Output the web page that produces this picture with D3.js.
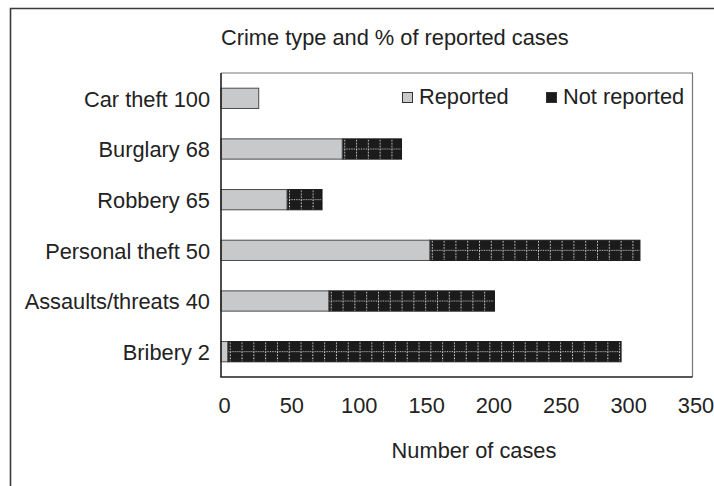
<!DOCTYPE html>
<html>
<head>
<meta charset="utf-8">
<script src="https://cdn.jsdelivr.net/npm/d3@7"></script>
<style>
  html, body { margin: 0; padding: 0; background: #fff; }
  svg { display: block; font-family: "Liberation Sans", Arial, sans-serif; }
</style>
</head>
<body>
<svg id="chart" width="714" height="486"></svg>
<script>
// data
const categories = ["Car theft 100", "Burglary 68", "Robbery 65", "Personal theft 50", "Assaults/threats 40", "Bribery 2"];
const reported = [28, 90, 49, 155, 80, 5];
const notReported = [0, 44, 26, 156, 123, 292];
const xTicks = [0, 50, 100, 150, 200, 250, 300, 350];
const seriesNames = ["Reported", "Not reported"];

const svg = d3.select("#chart");
const plotL = 221, plotR = 692.5, plotT = 73, plotB = 377;
const fs = 21.8;

const x = d3.scaleLinear().domain([0, 350]).range([plotL, plotR]);
const y = d3.scaleBand().domain(categories).range([plotT, plotB]).paddingInner(0.6).paddingOuter(0.3);

// outer frame (cropped: only top and left)
svg.append("path")
  .attr("d", "M10.5,486 V8.5 H714")
  .attr("fill", "none").attr("stroke", "#3a3a3a").attr("stroke-width", 1.6);

// title
svg.append("text")
  .attr("x", plotL).attr("y", 45)
  .attr("font-size", fs).attr("fill", "#222")
  .text("Crime type and % of reported cases");

// plot frame, top and right thin
svg.append("path")
  .attr("d", `M${plotL},${plotT} H${plotR} V${plotB}`)
  .attr("fill", "none").attr("stroke", "#777").attr("stroke-width", 1.2);

// hatch patterns for the not reported part, one per bar
const defs = svg.append("defs");
const bh = y.bandwidth();
categories.forEach((c, i) => {
  const p = defs.append("pattern")
    .attr("id", "pat" + i)
    .attr("patternUnits", "userSpaceOnUse")
    .attr("x", x(reported[i]) + 2).attr("y", y(c))
    .attr("width", 11.8).attr("height", bh);
  p.append("rect").attr("width", 11.8).attr("height", bh).attr("fill", "#1b1b1b");
  p.append("line")
    .attr("x1", 0.5).attr("x2", 0.5).attr("y1", 1).attr("y2", bh)
    .attr("stroke", "#ddd").attr("stroke-width", 1).attr("stroke-dasharray", "1.5,1.5");
  p.append("line")
    .attr("x1", 0).attr("x2", 11.8).attr("y1", bh / 2).attr("y2", bh / 2)
    .attr("stroke", "#ccc").attr("stroke-width", 1).attr("stroke-dasharray", "1.2,1.2");
});

const rows = svg.append("g").selectAll("g").data(categories).join("g");

rows.append("rect")
  .attr("x", (d, i) => x(reported[i]))
  .attr("y", d => y(d))
  .attr("width", (d, i) => x(reported[i] + notReported[i]) - x(reported[i]))
  .attr("height", bh)
  .attr("fill", (d, i) => `url(#pat${i})`)
  .attr("stroke", "#1b1b1b").attr("stroke-width", 1);

rows.append("rect")
  .attr("x", x(0))
  .attr("y", d => y(d))
  .attr("width", (d, i) => x(reported[i]) - x(0))
  .attr("height", bh)
  .attr("fill", "#c8c9ca")
  .attr("stroke", "#4a4a4a").attr("stroke-width", 1);

// axes
const xAxis = svg.append("g")
  .attr("transform", `translate(0,${plotB})`)
  .call(d3.axisBottom(x).tickValues(xTicks).tickSize(0).tickPadding(21));
xAxis.select(".domain").remove();
xAxis.selectAll("text").attr("font-size", fs).attr("fill", "#222").attr("dx", 3);

const yAxis = svg.append("g")
  .attr("transform", `translate(${plotL},0)`)
  .call(d3.axisLeft(y).tickSize(0).tickPadding(11));
yAxis.select(".domain").remove();
yAxis.selectAll("text").attr("font-size", fs).attr("fill", "#222").attr("dy", "0.38em");

svg.append("path")
  .attr("d", `M${plotL},${plotT} V${plotB} H${plotR}`)
  .attr("fill", "none").attr("stroke", "#222").attr("stroke-width", 1.6);

svg.append("text")
  .attr("x", 474).attr("y", 458)
  .attr("text-anchor", "middle")
  .attr("font-size", fs).attr("fill", "#222")
  .text("Number of cases");

// legend
const legX = [402, 546];
const leg = svg.append("g").selectAll("g").data(seriesNames).join("g")
  .attr("transform", (d, i) => `translate(${legX[i]},92)`);
leg.append("rect")
  .attr("x", 0.5).attr("y", 0.5).attr("width", 10).attr("height", 10)
  .attr("fill", (d, i) => i === 0 ? "#c8c9ca" : "#1b1b1b")
  .attr("stroke", "#333").attr("stroke-width", 1);
leg.append("text")
  .attr("x", 17).attr("y", 11.5)
  .attr("font-size", fs).attr("fill", "#222")
  .text(d => d);
</script>
</body>
</html>
